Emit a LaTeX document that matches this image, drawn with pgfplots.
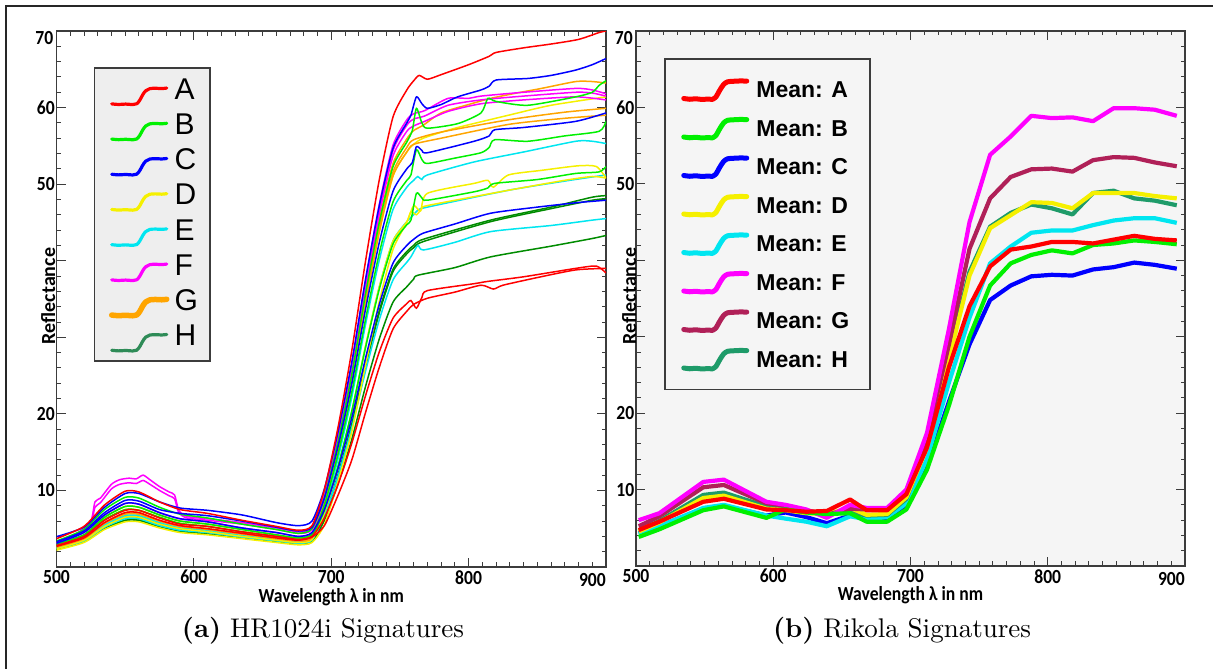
\documentclass[border=0pt]{standalone}
\usepackage{fontspec}
\usepackage{pgfplots}
\pgfplotsset{compat=1.18}
\newfontfamily\tickfont[FakeStretch=0.88]{Carlito}
\newfontfamily\labfont{Carlito}
\newfontfamily\legfont{Liberation Sans}
\newfontfamily\capfont{lmroman10-regular.otf}[BoldFont=lmroman10-bold.otf]

\definecolor{cRed}{RGB}{255,0,0}
\definecolor{cGreen}{RGB}{0,240,0}
\definecolor{cBlue}{RGB}{0,0,255}
\definecolor{cYellow}{RGB}{245,240,0}
\definecolor{cCyan}{RGB}{0,230,240}
\definecolor{cMag}{RGB}{255,0,255}
\definecolor{cOrange}{RGB}{255,165,0}
\definecolor{cDGreen}{RGB}{0,140,0}
\definecolor{cSea}{RGB}{46,139,87}
\definecolor{cMaroon}{RGB}{176,32,88}
\definecolor{cTeal}{RGB}{30,155,105}
\definecolor{axgray}{RGB}{60,60,60}
\definecolor{bgR}{RGB}{245,245,245}
\definecolor{legL}{RGB}{238,238,238}

\pgfplotsset{
  specbase/.style={
    scale only axis, xmin=500, xmax=900, ymin=0, ymax=70,
    xtick={500,600,700,800,900}, xticklabels={500,600,700,800,{}},
    extra x ticks={900}, extra x tick labels={900},
    minor x tick num=9,
    ytick={0,10,20,30,40,50,60,70}, yticklabels={{},10,20,{},{},50,60,{}},
    extra y ticks={70}, extra y tick labels={70},
    minor y tick num=4,
    tick align=inside, major tick length=9pt, minor tick length=4.5pt,
    every tick/.style={axgray, line width=0.9pt},
    axis line style={axgray, line width=1.4pt},
    /pgf/number format/assume math mode=true,
    ticklabel style={font=\tickfont\bfseries\fontsize{20}{20}\selectfont, inner sep=0pt, text=black},
    xticklabel style={anchor=north, yshift=-3pt},
    yticklabel style={anchor=east, xshift=-1.5pt},
    extra x tick style={xticklabel style={anchor=north east, yshift=-3pt}},
    extra y tick style={yticklabel style={anchor=north east, xshift=-1.5pt}},
    xlabel={Wavelength λ in nm},
    ylabel={Reflectance},
    xlabel style={font=\tickfont\bfseries\fontsize{20}{20}\selectfont, anchor=base, inner sep=0pt},
    ylabel style={font=\labfont\bfseries\fontsize{20}{20}\selectfont, anchor=base, inner sep=0pt},
    legend cell align=left,
  },
  lc/.style={line width=1.5pt, smooth, tension=0.4, forget plot},
  rc/.style={line width=4.2pt, line join=round, forget plot},
  legiconL/.style={legend image code/.code={
    \path[draw=none, fill=none] (-7pt,-16pt) rectangle (56pt,7pt);
    \draw[##1, overlay, line cap=round, line join=round] plot[smooth, tension=0.55] coordinates {(0pt,-12.6pt) (7pt,-13.2pt) (14pt,-12.8pt) (21pt,-13.3pt) (25pt,-12.5pt) (28pt,-9pt) (31pt,-3.5pt) (34pt,0.5pt) (38pt,2.6pt) (44pt,3pt) (50pt,2.7pt) (55pt,3.2pt)};
  }},
  legiconR/.style={legend image code/.code={
    \path[draw=none, fill=none] (0pt,-10.5pt) rectangle (63.6pt,10.5pt);
    \draw[##1, overlay, line cap=round, line join=round] plot[smooth, tension=0.5] coordinates {(0pt,-9.2pt) (6pt,-10pt) (12pt,-9.5pt) (18pt,-10.2pt) (24pt,-9.8pt) (29pt,-10pt) (32pt,-8pt) (36pt,-1pt) (40pt,5pt) (44pt,7.5pt) (50pt,8pt) (56pt,8.3pt) (63pt,8.2pt)};
  }},
}

\begin{document}
\begin{tikzpicture}
\useasboundingbox (0pt,0pt) rectangle (1213pt,669pt);
\draw[line width=1.3pt, black!85] (6pt,0pt) -- (6pt,663pt) -- (1213pt,663pt);

% ---------------- (a) HR1024i ----------------
\begin{axis}[specbase, at={(56.5pt,102pt)}, anchor=south west, width=549.5pt, height=536pt,
  xlabel style={at={(axis description cs:0.5,-0.0665)}},
  ylabel style={at={(axis description cs:-0.0027,0.5056)}},
  legend style={at={(axis description cs:0.0682,0.9328)}, anchor=north west, draw=axgray, line width=1.5pt, fill=legL,
    inner xsep=10pt, inner ysep=7.5pt, row sep=3.2pt, column sep=5pt,
    font=\legfont\fontsize{30}{30}\selectfont, nodes={inner sep=2pt, text height=22pt, text depth=6pt}},
]
% dark greens
\addplot[lc, cDGreen] coordinates {(500,2.4)(520,3.5)(535,5.3)(550,6.5)(560,6.5)(575,5.6)(590,5.0)(610,4.6)(635,4.0)(660,3.5)(676,3.2)(686,3.6)(695,6.7)(705,12.1)(715,18.7)(725,26.5)(735,33.5)(745,38.9)(755,41.2)(760,42.0)(767,42.8)(816,45.3)(860,47.0)(890,48.3)(900,48.5)};
\addplot[lc, cDGreen] coordinates {(500,2.3)(520,3.3)(535,5.0)(550,6.1)(560,6.1)(575,5.3)(590,4.7)(610,4.3)(635,3.8)(660,3.3)(676,3.0)(686,3.3)(695,6.5)(705,11.9)(715,18.5)(725,26.2)(735,33.2)(745,38.6)(755,40.9)(760,41.7)(767,42.5)(816,45.1)(860,46.8)(890,47.9)(900,48.1)};
\addplot[lc, cDGreen] coordinates {(500,2.3)(520,3.3)(535,5.0)(550,6.1)(560,6.1)(575,5.3)(590,4.7)(610,4.3)(635,3.8)(660,3.3)(676,3.0)(686,3.3)(695,6.1)(705,10.9)(715,16.7)(725,23.6)(735,29.8)(745,34.6)(755,36.6)(760,37.6)(763,38.1)(790,39.1)(816,40.5)(860,41.9)(890,42.9)(900,43.3)};
% cyans
\addplot[lc, cCyan] coordinates {(500,2.6)(520,3.7)(535,5.7)(550,6.9)(560,6.9)(575,6.0)(590,5.3)(610,4.9)(635,4.3)(660,3.7)(676,3.4)(686,3.8)(695,7.6)(705,14.2)(715,22.2)(725,31.7)(735,40.1)(745,46.7)(755,49.6)(760,50.5)(763,51.0)(766,50.6)(770,51.2)(804,52.9)(840,54.2)(878,55.6)(890,55.6)(900,55.3)};
\addplot[lc, cCyan] coordinates {(500,2.4)(520,3.4)(535,5.2)(550,6.3)(560,6.3)(575,5.4)(590,4.8)(610,4.5)(635,3.9)(660,3.4)(676,3.1)(686,3.5)(695,7.0)(705,13.0)(715,20.3)(725,28.8)(735,36.6)(745,42.6)(755,45.1)(760,46.0)(763,46.6)(770,47.0)(829,49.2)(870,50.4)(900,51.2)};
\addplot[lc, cCyan] coordinates {(500,2.5)(520,3.6)(535,5.5)(550,6.7)(560,6.7)(575,5.8)(590,5.1)(610,4.8)(635,4.1)(660,3.6)(676,3.3)(686,3.7)(695,6.6)(705,11.9)(715,18.2)(725,25.6)(735,32.3)(745,37.5)(755,39.8)(758,40.5)(763,42.0)(767,41.4)(790,42.4)(816,43.8)(860,44.6)(890,45.3)(900,45.5)};
% yellows
\addplot[lc, cYellow] coordinates {(500,2.8)(520,4.0)(535,6.2)(550,7.5)(560,7.4)(575,6.5)(590,5.7)(610,5.3)(635,4.6)(660,4.0)(676,3.6)(686,4.1)(695,8.2)(705,15.5)(715,24.2)(725,34.6)(735,43.8)(745,51.1)(755,54.2)(760,55.2)(767,56.0)(790,57.3)(829,59.0)(860,60.3)(900,61.4)};
\addplot[lc, cYellow] coordinates {(500,2.4)(520,3.5)(535,5.3)(550,6.5)(560,6.5)(575,5.6)(590,5.0)(610,4.6)(635,4.0)(660,3.5)(676,3.2)(686,3.6)(695,7.1)(705,13.0)(715,20.3)(725,28.9)(735,36.6)(745,42.6)(755,45.1)(760,47.2)(765,46.5)(770,48.8)(804,50.1)(814,50.5)(818,49.6)(829,51.2)(853,51.8)(880,52.4)(893,52.3)(900,50.8)};
\addplot[lc, cYellow] coordinates {(500,2.2)(520,3.2)(535,4.9)(550,5.9)(560,5.9)(575,5.1)(590,4.5)(610,4.2)(635,3.7)(660,3.2)(676,2.9)(686,3.2)(695,5.5)(705,11.2)(715,17.7)(725,26.4)(735,34.7)(745,41.5)(755,45.0)(758,46.4)(762,46.0)(766,46.8)(770,47.2)(829,49.2)(870,50.5)(890,51.0)(900,50.8)};
% oranges
\addplot[lc, cOrange] coordinates {(500,3.0)(520,4.2)(535,6.5)(550,7.9)(560,7.8)(575,6.8)(590,6.0)(610,5.6)(635,4.9)(660,4.2)(676,3.8)(686,4.3)(695,8.6)(705,16.0)(715,25.1)(725,35.7)(735,45.3)(745,52.7)(755,55.9)(760,57.0)(767,57.7)(780,59.3)(800,60.4)(816,61.2)(835,61.9)(853,62.5)(878,63.4)(890,63.4)(900,63.2)};
\addplot[lc, cOrange] coordinates {(500,2.7)(520,3.8)(535,5.8)(550,7.1)(560,7.1)(575,6.1)(590,5.4)(610,5.0)(635,4.4)(660,3.8)(676,3.5)(686,3.9)(695,8.2)(705,15.5)(715,24.4)(725,34.9)(735,44.3)(745,51.6)(755,54.8)(760,55.8)(780,56.8)(829,58.4)(870,59.4)(900,59.9)};
\addplot[lc, cOrange] coordinates {(500,2.6)(520,3.7)(535,5.7)(550,6.9)(560,6.9)(575,6.0)(590,5.3)(610,4.9)(635,4.3)(660,3.7)(676,3.4)(686,3.8)(695,8.1)(705,15.3)(715,24.1)(725,34.5)(735,43.8)(745,51.1)(755,54.2)(760,55.2)(780,56.0)(829,57.8)(870,58.6)(900,59.0)};
% magentas
\addplot[lc, cMag] coordinates {(500,3.2)(515,4.4)(525,6.0)(528,8.5)(532,9.0)(540,10.8)(546,11.4)(553,11.6)(558,11.5)(563,12.0)(568,11.4)(575,10.5)(582,9.8)(586,9.4)(589,7.4)(595,6.6)(610,6.3)(635,5.8)(660,5.1)(676,4.6)(686,5.1)(695,9.5)(705,17.2)(715,26.6)(725,37.5)(735,47.4)(745,55.1)(755,58.4)(760,59.2)(768,59.6)(785,61.2)(800,61.2)(809,61.5)(840,62.0)(878,62.5)(890,62.3)(900,61.8)};
\addplot[lc, cMag] coordinates {(500,3.0)(515,4.2)(525,5.7)(528,7.8)(532,8.4)(540,10.2)(546,10.8)(553,11.0)(558,10.9)(563,11.3)(568,10.8)(575,10.0)(582,9.3)(586,8.9)(589,7.1)(595,6.4)(610,6.1)(635,5.6)(660,4.9)(676,4.4)(686,4.9)(695,9.3)(705,16.9)(715,26.2)(725,36.9)(735,46.7)(745,54.4)(755,57.7)(760,58.5)(768,58.9)(785,60.3)(809,61.0)(840,61.5)(878,62.0)(890,61.9)(900,61.5)};
\addplot[lc, cMag] coordinates {(500,3.1)(520,4.5)(535,6.8)(550,8.3)(560,8.2)(575,7.1)(590,6.3)(610,5.9)(635,5.1)(660,4.5)(676,4.0)(686,4.5)(695,8.9)(705,16.4)(715,25.6)(725,36.4)(735,46.1)(745,53.7)(755,56.9)(760,57.6)(768,58.2)(785,59.5)(809,60.5)(840,61.0)(878,61.4)(900,61.0)};
% greens
\addplot[lc, cGreen] coordinates {(500,3.4)(520,4.9)(535,7.5)(550,9.1)(560,9.0)(575,7.8)(590,6.9)(610,6.4)(635,5.6)(660,4.9)(676,4.4)(686,5.0)(695,9.1)(705,16.4)(715,25.2)(725,35.7)(735,45.0)(745,52.3)(755,55.5)(759,57.0)(762,59.9)(766,58.0)(770,57.3)(792,57.9)(809,59.3)(814,61.2)(820,60.8)(843,60.3)(878,61.4)(890,62.0)(895,62.9)(900,63.5)};
\addplot[lc, cGreen] coordinates {(500,3.0)(520,4.2)(535,6.5)(550,7.9)(560,7.8)(575,6.8)(590,6.0)(610,5.6)(635,4.9)(660,4.2)(676,3.8)(686,4.3)(695,8.1)(705,14.8)(715,22.9)(725,32.4)(735,41.0)(745,47.7)(755,50.5)(758,51.2)(762,54.5)(766,53.2)(770,52.7)(790,53.4)(809,54.1)(815,54.8)(819,55.8)(843,55.6)(870,56.3)(895,56.9)(900,58.2)};
\addplot[lc, cGreen] coordinates {(500,2.8)(520,4.0)(535,6.2)(550,7.5)(560,7.4)(575,6.5)(590,5.7)(610,5.3)(635,4.6)(660,4.0)(676,3.6)(686,4.1)(695,7.4)(705,13.2)(715,20.4)(725,28.7)(735,36.3)(745,42.2)(755,44.7)(758,45.3)(762,48.8)(766,48.2)(770,47.9)(804,49.0)(814,49.5)(819,50.1)(850,50.6)(878,51.4)(895,51.6)(900,52.3)};
% blues
\addplot[lc, cBlue] coordinates {(500,3.96)(520,5.2)(535,7.8)(550,9.6)(560,9.6)(575,8.5)(590,7.7)(610,7.4)(635,6.8)(660,5.8)(676,5.4)(686,6.0)(695,10.2)(705,17.7)(715,26.8)(725,37.6)(735,47.2)(745,54.7)(755,58.0)(758,59.0)(762,61.4)(766,60.5)(770,59.9)(780,60.4)(792,61.4)(809,62.3)(815,62.8)(820,63.6)(843,63.8)(860,64.2)(878,64.9)(890,65.6)(900,66.4)};
\addplot[lc, cBlue] coordinates {(500,3.3)(520,4.7)(535,7.1)(550,8.7)(560,8.6)(575,7.5)(590,7.0)(610,6.7)(635,6.0)(660,5.2)(676,4.7)(686,5.2)(695,9.0)(705,15.8)(715,24.0)(725,33.7)(735,42.4)(745,49.1)(755,52.0)(759,52.8)(762,54.9)(766,54.4)(770,54.1)(804,55.6)(815,56.3)(819,57.1)(840,57.4)(878,58.2)(900,59.3)};
\addplot[lc, cBlue] coordinates {(500,3.1)(520,4.5)(535,6.8)(550,8.3)(560,8.2)(575,7.1)(590,6.3)(610,5.9)(635,5.1)(660,4.5)(676,4.0)(686,4.5)(695,7.5)(705,12.9)(715,19.5)(725,27.3)(735,34.3)(745,39.7)(755,42.0)(760,42.8)(767,43.6)(790,44.8)(816,46.2)(850,47.0)(880,47.6)(900,47.9)};
% reds
\addplot[lc, cRed] coordinates {(500,2.8)(520,4.0)(535,6.1)(550,7.4)(560,7.4)(575,6.4)(590,5.6)(610,5.3)(635,4.6)(660,4.0)(676,3.6)(686,4.0)(695,6.4)(705,10.8)(715,16.2)(725,22.4)(735,28.1)(745,32.5)(755,34.4)(758,34.8)(762,33.8)(766,35.2)(770,36.1)(804,37.0)(814,37.3)(840,37.9)(878,39.0)(893,39.3)(900,38.4)};
\addplot[lc, cRed] coordinates {(500,2.7)(520,3.8)(535,5.8)(550,7.1)(560,7.1)(575,6.1)(590,5.4)(610,5.0)(635,4.4)(660,3.8)(676,3.5)(686,3.9)(695,5.4)(705,9.4)(715,14.0)(725,20.2)(735,26.1)(745,31.1)(755,33.4)(760,34.3)(770,35.1)(790,35.9)(809,36.8)(818,36.3)(825,36.8)(850,37.8)(878,38.8)(900,39.0)};
\addplot[lc, cRed] coordinates {(500,3.7)(520,5.3)(535,8.1)(550,9.9)(560,9.8)(575,8.5)(590,7.5)(610,7.0)(635,6.1)(660,5.3)(676,4.8)(686,5.4)(695,10.1)(705,18.3)(715,28.3)(725,40.0)(735,50.6)(745,58.8)(755,62.3)(760,63.5)(764,64.2)(770,63.7)(780,64.3)(800,65.6)(815,66.7)(820,67.2)(840,67.8)(860,68.3)(880,68.9)(895,69.8)(900,70.0)};
% legend
\addlegendimage{cRed, line width=3.2pt, legiconL}\addlegendentry{A}
\addlegendimage{cGreen, line width=3.2pt, legiconL}\addlegendentry{B}
\addlegendimage{cBlue, line width=3.2pt, legiconL}\addlegendentry{C}
\addlegendimage{cYellow, line width=3.2pt, legiconL}\addlegendentry{D}
\addlegendimage{cCyan, line width=3.2pt, legiconL}\addlegendentry{E}
\addlegendimage{cMag, line width=3.2pt, legiconL}\addlegendentry{F}
\addlegendimage{cOrange, line width=5.5pt, legiconL}\addlegendentry{G}
\addlegendimage{cSea, line width=3.2pt, legiconL}\addlegendentry{H}
\end{axis}

% ---------------- (b) Rikola ----------------
\begin{axis}[specbase, at={(636pt,103pt)}, anchor=south west, width=549pt, height=535pt,
  axis background/.style={fill=bgR},
  xlabel style={at={(axis description cs:0.5,-0.0636)}},
  ylabel style={at={(axis description cs:0,0.5047)}},
  legend style={at={(axis description cs:0.051,0.9495)}, anchor=north west, draw=axgray, line width=1.5pt, fill=bgR,
    inner xsep=19pt, inner ysep=20pt, row sep=17.5pt, column sep=7pt,
    font=\legfont\bfseries\fontsize{23}{23}\selectfont, nodes={inner sep=2pt, text height=17pt, text depth=0pt}},
]
\addplot[rc, cBlue] coordinates {(502,4.3)(517,5.2)(549,7.5)(564,7.9)(595,6.6)(609,7.0)(624,6.4)(639,5.6)(656,6.6)(668,6.2)(683,6.3)(697,8.0)(712,13.0)(728,21.5)(743,29.0)(758,34.8)(773,36.7)(788,37.9)(803,38.1)(818,38.0)(833,38.8)(848,39.1)(863,39.7)(878,39.4)(894,38.9)};
\addplot[rc, cCyan] coordinates {(502,4.2)(517,5.2)(549,7.6)(564,8.0)(595,6.6)(609,6.2)(624,5.8)(639,5.2)(656,6.5)(668,6.1)(683,6.4)(697,8.2)(712,14.0)(728,24.0)(743,32.5)(758,39.6)(773,41.8)(788,43.6)(803,43.9)(818,43.9)(833,44.6)(848,45.2)(863,45.5)(878,45.5)(894,44.9)};
\addplot[rc, cTeal] coordinates {(502,4.6)(517,5.9)(549,9.3)(564,9.6)(595,7.8)(609,7.7)(624,7.1)(639,6.9)(656,7.2)(668,6.6)(683,6.7)(697,8.8)(712,16.0)(728,27.5)(743,38.5)(758,44.4)(773,46.2)(788,47.3)(803,46.8)(818,46.0)(833,48.8)(848,49.1)(863,48.1)(878,47.8)(894,47.2)};
\addplot[rc, cYellow] coordinates {(502,4.5)(517,5.7)(549,8.9)(564,9.2)(595,7.5)(609,7.3)(624,6.9)(639,6.8)(656,7.6)(668,6.7)(683,6.8)(697,9.0)(712,15.5)(728,27.0)(743,38.0)(758,44.2)(773,45.9)(788,47.6)(803,47.5)(818,46.8)(833,48.8)(848,48.8)(863,48.8)(878,48.4)(894,48.1)};
\addplot[rc, cMaroon] coordinates {(502,5.2)(517,6.5)(549,10.3)(564,10.6)(595,8.2)(609,7.9)(624,7.3)(639,6.7)(656,7.5)(668,7.4)(683,7.4)(697,9.8)(712,16.8)(728,29.0)(743,41.5)(758,48.1)(773,50.9)(788,51.9)(803,52.0)(818,51.6)(833,53.1)(848,53.5)(863,53.4)(878,52.8)(894,52.3)};
\addplot[rc, cMag] coordinates {(502,6.0)(517,6.9)(549,11.0)(564,11.3)(595,8.4)(609,8.0)(624,7.4)(639,6.3)(656,8.0)(668,7.6)(683,7.6)(697,10.0)(712,17.4)(728,31.0)(743,45.0)(758,53.8)(773,56.2)(788,58.9)(803,58.6)(818,58.7)(833,58.2)(848,59.9)(863,59.9)(878,59.7)(894,58.9)};
\addplot[rc, cGreen] coordinates {(502,3.8)(517,4.8)(549,7.3)(564,7.8)(595,6.3)(609,7.4)(624,7.0)(639,6.8)(656,6.9)(668,5.8)(683,5.8)(697,7.4)(712,12.6)(728,21.0)(743,30.0)(758,36.7)(773,39.6)(788,40.7)(803,41.3)(818,40.9)(833,42.0)(848,42.2)(863,42.6)(878,42.4)(894,42.1)};
\addplot[rc, cRed] coordinates {(502,4.7)(517,5.8)(549,8.4)(564,8.8)(595,7.4)(609,7.3)(624,7.1)(639,7.2)(656,8.7)(668,7.3)(683,7.3)(697,9.4)(712,15.5)(728,26.0)(743,34.0)(758,39.2)(773,41.4)(788,41.8)(803,42.4)(818,42.4)(833,42.2)(848,42.7)(863,43.2)(878,42.8)(894,42.6)};
\addlegendimage{cRed, line width=5pt, legiconR}\addlegendentry{Mean: A}
\addlegendimage{cGreen, line width=5pt, legiconR}\addlegendentry{Mean: B}
\addlegendimage{cBlue, line width=5pt, legiconR}\addlegendentry{Mean: C}
\addlegendimage{cYellow, line width=5pt, legiconR}\addlegendentry{Mean: D}
\addlegendimage{cCyan, line width=5pt, legiconR}\addlegendentry{Mean: E}
\addlegendimage{cMag, line width=5pt, legiconR}\addlegendentry{Mean: F}
\addlegendimage{cMaroon, line width=5pt, legiconR}\addlegendentry{Mean: G}
\addlegendimage{cTeal, line width=5pt, legiconR}\addlegendentry{Mean: H}
\end{axis}

\node[anchor=base, font=\capfont\fontsize{27}{31}\selectfont] at (323pt,31pt) {\textbf{(a)} HR1024i Signatures};
\node[anchor=base, font=\capfont\fontsize{27}{31}\selectfont] at (902pt,31pt) {\textbf{(b)} Rikola Signatures};
\end{tikzpicture}
\end{document}
